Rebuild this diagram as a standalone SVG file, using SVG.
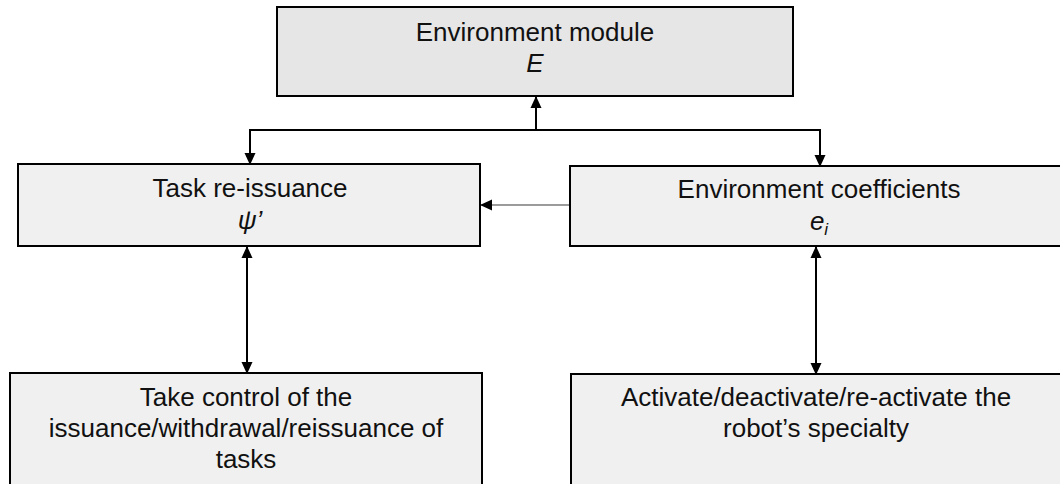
<svg xmlns="http://www.w3.org/2000/svg" width="1060" height="484" viewBox="0 0 1060 484">
  <defs>
    <style>
      .box { fill: #f0f0f0; stroke: #000; stroke-width: 2; }
      .box.top { fill: #e6e6e6; }
      .label { font-family: "Liberation Sans", Arial, sans-serif; font-size: 26px; fill: #111; text-anchor: middle; }
      .math { font-style: italic; }
      .link { fill: none; stroke: #000; stroke-width: 2; }
      .link.thin { stroke: #7a7a7a; stroke-width: 1.5; }
    </style>
    <marker id="arrow" viewBox="0 0 12 12" refX="11" refY="6" markerWidth="12" markerHeight="12" markerUnits="userSpaceOnUse" orient="auto-start-reverse">
      <path d="M0,0.5 L12,6 L0,11.5 Z" fill="#000"/>
    </marker>
  </defs>

  <rect width="1060" height="484" fill="#fff"/>

  <!-- connectors -->
  <g id="connectors">
    <path class="link" d="M536,130 V97" marker-end="url(#arrow)"/>
    <path class="link" d="M536,130 H250 V164" marker-end="url(#arrow)"/>
    <path class="link" d="M536,130 H820 V166" marker-end="url(#arrow)"/>
    <path class="link thin" d="M570,205 H481" marker-end="url(#arrow)"/>
    <path class="link" d="M247,247 V373" marker-start="url(#arrow)" marker-end="url(#arrow)"/>
    <path class="link" d="M816,247 V374" marker-start="url(#arrow)" marker-end="url(#arrow)"/>
  </g>

  <g id="environment-module">
    <rect class="box top" x="277" y="7" width="516" height="89"/>
    <text class="label" x="535" y="41">Environment module</text>
    <text class="label math" x="535" y="72">E</text>
  </g>

  <g id="task-reissuance">
    <rect class="box" x="18" y="164" width="462" height="82"/>
    <text class="label" x="250" y="197">Task re-issuance</text>
    <text class="label math" x="250" y="229">ψ’</text>
  </g>

  <g id="environment-coefficients">
    <rect class="box" x="570" y="166" width="498" height="80"/>
    <text class="label" x="819" y="198">Environment coefficients</text>
    <text class="label math" x="819" y="230">e<tspan font-size="17" dy="5">i</tspan></text>
  </g>

  <g id="task-control">
    <rect class="box" x="10" y="373" width="472" height="120"/>
    <text class="label" x="246" y="406">Take control of the</text>
    <text class="label" x="246" y="437">issuance/withdrawal/reissuance of</text>
    <text class="label" x="246" y="468">tasks</text>
  </g>

  <g id="robot-specialty">
    <rect class="box" x="571" y="374" width="497" height="120"/>
    <text class="label" x="816" y="406">Activate/deactivate/re-activate the</text>
    <text class="label" x="816" y="437">robot’s specialty</text>
  </g>
</svg>
